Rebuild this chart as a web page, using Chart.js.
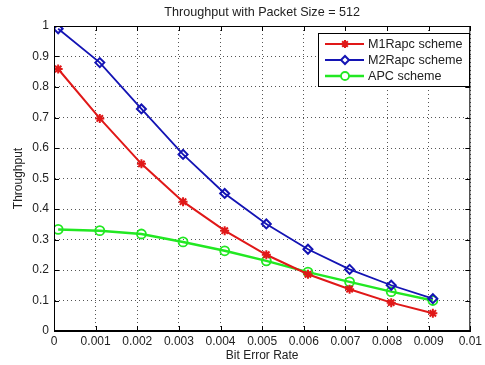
<!DOCTYPE html>
<html>
<head>
<meta charset="utf-8">
<script src="https://cdn.jsdelivr.net/npm/chart.js@4"></script>
<style>
  html, body { margin: 0; padding: 0; background: #fff; }
  #wrap { width: 485px; height: 365px; position: relative; }
</style>
</head>
<body>
<div id="wrap"><canvas id="chart"></canvas></div>
<script>
// data
const berValues = [0.0001, 0.0011, 0.0021, 0.0031, 0.0041, 0.0051, 0.0061, 0.0071, 0.0081, 0.0091];
const m1Rapc = [0.859, 0.697, 0.548, 0.424, 0.329, 0.25, 0.186, 0.137, 0.093, 0.058];
const m2Rapc = [0.991, 0.88, 0.728, 0.579, 0.451, 0.351, 0.268, 0.202, 0.15, 0.106];
const apc = [0.333, 0.329, 0.318, 0.292, 0.263, 0.23, 0.193, 0.161, 0.129, 0.10];
const xTicks = [0, 0.001, 0.002, 0.003, 0.004, 0.005, 0.006, 0.007, 0.008, 0.009, 0.01];
const xTickLabels = ['0', '0.001', '0.002', '0.003', '0.004', '0.005', '0.006', '0.007', '0.008', '0.009', '0.01'];
const yTicks = [0, 0.1, 0.2, 0.3, 0.4, 0.5, 0.6, 0.7, 0.8, 0.9, 1];
const yTickLabels = ['0', '0.1', '0.2', '0.3', '0.4', '0.5', '0.6', '0.7', '0.8', '0.9', '1'];
const seriesNames = ['M1Rapc scheme', 'M2Rapc scheme', 'APC scheme'];

const FONT = 'Liberation Sans, Arial, sans-serif';
const TEXT = '#222';

function pts(ys) {
    return berValues.map((x, i) => ({ x: x, y: ys[i] }));
}

// box, inward ticks, title and legend (matlab look)
const matlabFrame = {
    id: 'matlabFrame',
    afterDraw(chart) {
        const ctx = chart.ctx;
        const a = chart.chartArea;
        const xs = chart.scales.x, ys = chart.scales.y;
        ctx.save();
        ctx.strokeStyle = '#000';
        ctx.lineWidth = 1;
        ctx.strokeRect(a.left + 0.5, a.top + 0.5, a.right - a.left - 1, a.bottom - a.top - 1);
        ctx.beginPath();
        xTicks.forEach(v => {
            const px = Math.round(xs.getPixelForValue(v)) + 0.5;
            ctx.moveTo(px, a.bottom); ctx.lineTo(px, a.bottom - 5);
            ctx.moveTo(px, a.top); ctx.lineTo(px, a.top + 5);
        });
        yTicks.forEach(v => {
            const py = Math.round(ys.getPixelForValue(v)) + 0.5;
            ctx.moveTo(a.left, py); ctx.lineTo(a.left + 5, py);
            ctx.moveTo(a.right, py); ctx.lineTo(a.right - 5, py);
        });
        ctx.stroke();

        // title
        ctx.fillStyle = TEXT;
        ctx.font = '12.6px ' + FONT;
        ctx.textAlign = 'center';
        ctx.textBaseline = 'middle';
        ctx.fillText('Throughput with Packet Size = 512', (a.left + a.right) / 2, 13);

        // legend
        const lx = 318, ly = 33, lw = 151, lh = 53;
        ctx.fillStyle = '#fff';
        ctx.fillRect(lx, ly, lw, lh);
        ctx.strokeStyle = '#000';
        ctx.lineWidth = 1;
        ctx.strokeRect(lx + 0.5, ly + 0.5, lw, lh);
        chart.data.datasets.forEach((ds, i) => {
            const cy = 44 + i * 16;
            ctx.strokeStyle = ds.borderColor;
            ctx.lineWidth = ds.borderWidth;
            ctx.beginPath();
            ctx.moveTo(325, cy); ctx.lineTo(364, cy);
            ctx.stroke();
            ctx.fillStyle = '#fff';
            ctx.lineWidth = ds.pointBorderWidth;
            Chart.helpers.drawPoint(ctx, {
                pointStyle: ds.pointStyle, radius: 4, borderWidth: ds.pointBorderWidth, rotation: 0
            }, 345, cy);
            ctx.fillStyle = TEXT;
            ctx.font = '12.6px ' + FONT;
            ctx.textAlign = 'left';
            ctx.fillText(ds.label, 368, cy + 1);
        });
        ctx.restore();
    }
};

new Chart(document.getElementById('chart'), {
    type: 'line',
    data: {
        datasets: [
            {
                label: seriesNames[0], data: pts(m1Rapc),
                borderColor: '#e01818', backgroundColor: '#e01818',
                borderWidth: 2, pointStyle: 'star', pointRadius: 4.5,
                pointBorderWidth: 2, pointBorderColor: '#e01818'
            },
            {
                label: seriesNames[1], data: pts(m2Rapc),
                borderColor: '#1414b4', backgroundColor: '#fff',
                borderWidth: 1.8, pointStyle: 'rectRot', pointRadius: 4.5,
                pointBorderWidth: 2, pointBorderColor: '#1414b4', pointBackgroundColor: 'rgba(255,255,255,0)'
            },
            {
                label: seriesNames[2], data: pts(apc),
                borderColor: '#22e822', backgroundColor: '#fff',
                borderWidth: 2.5, pointStyle: 'circle', pointRadius: 4.5,
                pointBorderWidth: 1.8, pointBorderColor: '#22e822', pointBackgroundColor: 'rgba(255,255,255,0)'
            }
        ]
    },
    options: {
        responsive: true,
        maintainAspectRatio: false,
        animation: false,
        layout: { padding: { left: 0, right: 10, top: 26, bottom: 0 } },
        plugins: {
            legend: { display: false },
            title: { display: false },
            tooltip: { enabled: false }
        },
        scales: {
            x: {
                type: 'linear', min: 0, max: 0.01,
                afterBuildTicks: s => { s.ticks = xTicks.map(v => ({ value: v })); },
                afterFit: s => { s.height = 34; },
                ticks: {
                    color: TEXT, font: { family: FONT, size: 12 }, padding: 3,
                    maxRotation: 0, autoSkip: false,
                    callback: (v, i) => xTickLabels[i]
                },
                grid: { color: '#555', drawTicks: false },
                border: { display: true, color: '#000', dash: [1, 3] },
                title: {
                    display: true, text: 'Bit Error Rate', color: TEXT,
                    font: { family: FONT, size: 12 }, padding: { top: 0, bottom: 2 }
                }
            },
            y: {
                type: 'linear', min: 0, max: 1,
                afterBuildTicks: s => { s.ticks = yTicks.map(v => ({ value: v })); },
                afterFit: s => { s.width = 54; },
                ticks: {
                    color: TEXT, font: { family: FONT, size: 12 }, padding: 5,
                    callback: (v, i) => yTickLabels[i]
                },
                grid: { color: '#555', drawTicks: false },
                border: { display: true, color: '#000', dash: [1, 3] },
                title: {
                    display: true, text: 'Throughput', color: TEXT,
                    font: { family: FONT, size: 12 }, padding: { top: 11, bottom: 0 }
                }
            }
        }
    },
    plugins: [matlabFrame]
});
</script>
</body>
</html>
